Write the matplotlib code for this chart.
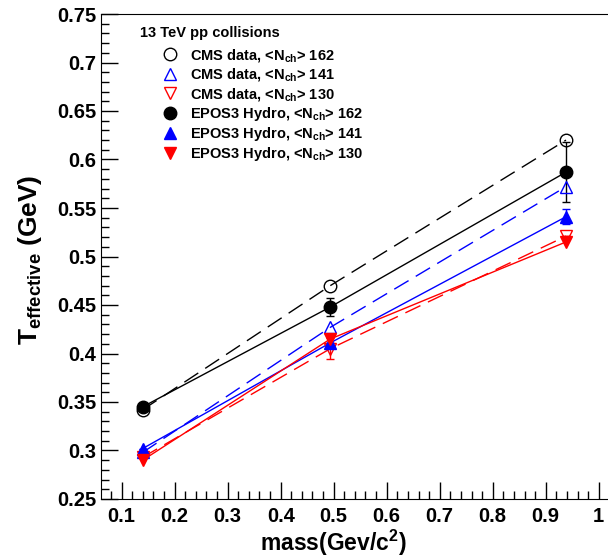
import numpy as np
import matplotlib
matplotlib.use("Agg")
import matplotlib.pyplot as plt
from matplotlib.ticker import MultipleLocator
from matplotlib.lines import Line2D

plt.rcParams['font.family'] = ['Liberation Sans', 'DejaVu Sans']
plt.rcParams['font.weight'] = 'bold'
plt.rcParams['mathtext.fontset'] = 'custom'
plt.rcParams['mathtext.rm'] = 'Liberation Sans:bold'
plt.rcParams['mathtext.default'] = 'rm'

# particle masses (pi, K, p)
mass = [0.1396, 0.4937, 0.9383]

# CMS data
cms_162 = [0.342, 0.470, 0.620]
cms_141 = [0.298, 0.427, 0.572]
cms_130 = [0.293, 0.405, 0.521]
cms_130_err = [0.0, 0.011, 0.0]

# EPOS3 hydro
epos_162 = [0.345, 0.448, 0.587]
epos_162_err = [0.0, 0.0095, 0.031]
epos_141 = [0.302, 0.411, 0.541]
epos_141_err = [0.0, 0.0, 0.008]
epos_130 = [0.290, 0.415, 0.515]

labels = ["CMS data, <N$_{ch}$> 162", "CMS data, <N$_{ch}$> 141",
          "CMS data, <N$_{ch}$> 130", "EPOS3 Hydro, <N$_{ch}$> 162",
          "EPOS3 Hydro, <N$_{ch}$> 141", "EPOS3 Hydro, <N$_{ch}$> 130"]

fig = plt.figure(figsize=(6.08, 5.57), dpi=100)
ax = fig.add_axes([101/608, 1-499/557, 1-101/608, 485/557])

dash = (0, (12, 6))
ax.plot(mass, cms_162, color='black', lw=1, linestyle=dash)
ax.plot(mass, cms_141, color='blue', lw=1, linestyle=dash)
ax.plot(mass, cms_130, color='red', lw=1, linestyle=dash)
ax.plot(mass, epos_162, color='black', lw=1)
ax.plot(mass, epos_141, color='blue', lw=1)
ax.plot(mass, epos_130, color='red', lw=1)

ms = 9
ax.errorbar(mass, cms_162, fmt='o', mfc='none', mec='black', color='black', ms=ms, mew=1)
ax.errorbar(mass, cms_141, fmt='^', mfc='none', mec='blue', color='blue', ms=ms, mew=1)
ax.errorbar(mass, cms_130, yerr=cms_130_err, fmt='v', mfc='none', mec='red', color='red',
            ms=ms, mew=1, capsize=3, elinewidth=1)
ax.errorbar(mass, epos_162, yerr=epos_162_err, fmt='o', color='black', ms=ms,
            capsize=3, elinewidth=1)
ax.errorbar(mass, epos_141, yerr=epos_141_err, fmt='^', color='blue', ms=ms,
            capsize=3, elinewidth=1)
ax.errorbar(mass, epos_130, fmt='v', color='red', ms=ms)

handles = [
    Line2D([], [], ls='none', marker='o', mfc='none', mec='black', ms=ms),
    Line2D([], [], ls='none', marker='^', mfc='none', mec='blue', ms=ms),
    Line2D([], [], ls='none', marker='v', mfc='none', mec='red', ms=ms),
    Line2D([], [], ls='none', marker='o', color='black', ms=ms),
    Line2D([], [], ls='none', marker='^', color='blue', ms=ms),
    Line2D([], [], ls='none', marker='v', color='red', ms=ms),
]
ax.legend(handles, labels, loc='upper left', bbox_to_anchor=(0.093, 0.959),
          frameon=False, fontsize=10.5, handlelength=1.2, handletextpad=0.8,
          labelspacing=0.155)
ax.text((140-101)/507, (499-33)/485, "13 TeV pp collisions", transform=ax.transAxes,
        fontsize=10.5, fontweight='bold', va='center', ha='left')

ax.set_xlim(0.061, 1.0175)
ax.set_ylim(0.25, 0.75)
ax.xaxis.set_major_locator(MultipleLocator(0.1))
ax.xaxis.set_minor_locator(MultipleLocator(0.02))
ax.yaxis.set_major_locator(MultipleLocator(0.05))
ax.yaxis.set_minor_locator(MultipleLocator(0.01))
ax.xaxis.set_major_formatter(plt.FuncFormatter(lambda v, p: "%g" % round(v, 2)))
ax.yaxis.set_major_formatter(plt.FuncFormatter(lambda v, p: "%g" % round(v, 2)))
ax.tick_params(which='both', direction='in', top=False, right=False, labelsize=14.5)
ax.tick_params(which='major', length=12, width=1)
ax.tick_params(which='minor', length=6, width=1)
ax.tick_params(axis='x', pad=6)
ax.spines['right'].set_visible(False)

ax.set_xlabel("mass(Gev/c$^{2}$)", fontsize=16.5, fontweight='bold')
ax.xaxis.set_label_coords((333-101)/507, -(528-499)/485)
ax.set_ylabel("T$_{effective}$ (GeV)", fontsize=19, fontweight='bold')
ax.yaxis.set_label_coords(-(101-44)/507, (499-260)/485)

fig.savefig("out.png", dpi=100)
